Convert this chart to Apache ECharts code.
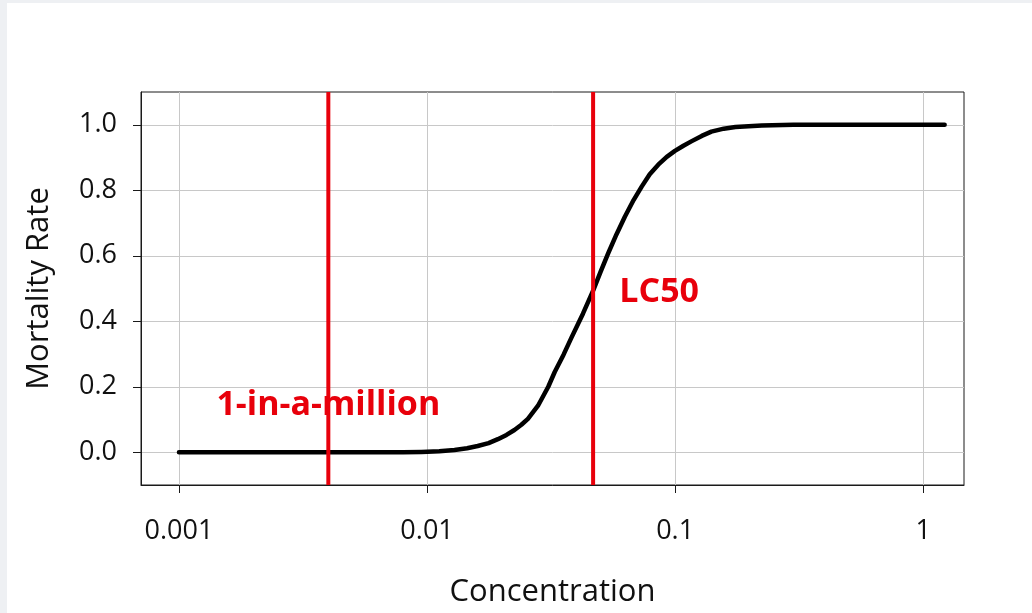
<!DOCTYPE html>
<html>
<head>
<meta charset="utf-8">
<script src="https://cdn.jsdelivr.net/npm/echarts@6/dist/echarts.min.js"></script>
<style>
  html, body { margin: 0; padding: 0; width: 1032px; height: 613px; background: #eef0f3; overflow: hidden; }
  #chart { position: absolute; left: 7px; top: 3px; width: 1025px; height: 610px; background: #ffffff; }
</style>
</head>
<body>
<div id="chart"></div>
<script>
// Concentration (log scale) and mortality rate
var concentration = [0.001, 0.002, 0.004, 0.006, 0.008, 0.0095, 0.0112, 0.0129, 0.0145, 0.016, 0.0177, 0.0193, 0.0209, 0.0225, 0.024, 0.0255, 0.028, 0.0308, 0.0327, 0.0355, 0.0382, 0.0425, 0.0468, 0.05, 0.0537, 0.058, 0.0627, 0.068, 0.0733, 0.079, 0.0855, 0.0925, 0.0998, 0.108, 0.1167, 0.128, 0.14, 0.157, 0.175, 0.2234, 0.3, 0.5, 1.22];
var mortality = [0, 0, 0, 0, 0, 0.001, 0.003, 0.007, 0.012, 0.019, 0.028, 0.040, 0.053, 0.068, 0.084, 0.102, 0.142, 0.200, 0.245, 0.298, 0.350, 0.423, 0.495, 0.550, 0.607, 0.665, 0.719, 0.770, 0.811, 0.849, 0.878, 0.902, 0.920, 0.936, 0.950, 0.966, 0.979, 0.988, 0.993, 0.998, 1.0, 1.0, 1.0];

var xTicks = [0.001, 0.01, 0.1, 1];
var yTicks = [0, 0.2, 0.4, 0.6, 0.8, 1.0];
var xRange = [0.000703, 1.46];
var yRange = [-0.1, 1.1];

// Reference lines (concentrations) and their labels
var oneInMillion = 0.004;
var lc50 = 0.0467;
var annotations = [
  { text: '1-in-a-million', x: 0.004, y: 0.143 },
  { text: 'LC50', x: 0.0862, y: 0.489 }
];

var FONT = '"Open Sans", "Noto Sans", sans-serif';
var RED = '#e8000b';

var chart = echarts.init(document.getElementById('chart'), null, { renderer: 'canvas' });

var curveData = concentration.map(function (c, i) { return [c, mortality[i]]; });

function vline(x) {
  return {
    type: 'line',
    data: [[x, yRange[0]], [x, yRange[1]]],
    showSymbol: false,
    silent: true,
    lineStyle: { color: RED, width: 4 },
    z: 4
  };
}

chart.setOption({
  animation: false,
  backgroundColor: '#ffffff',
  grid: {
    left: 134, top: 89, right: 68, bottom: 128,
    show: true, borderColor: '#1a1a1a', borderWidth: 1, backgroundColor: 'transparent'
  },
  xAxis: {
    type: 'log',
    logBase: 10,
    min: xRange[0],
    max: xRange[1],
    name: 'Concentration',
    nameLocation: 'middle',
    nameGap: 92,
    nameTextStyle: { fontFamily: FONT, fontSize: 31, color: '#111' },
    axisLine: { show: true, onZero: false, lineStyle: { color: '#1a1a1a', width: 1 } },
    axisTick: { show: true, inside: false, length: 8, customValues: xTicks, lineStyle: { color: '#1a1a1a', width: 1 } },
    axisLabel: {
      customValues: xTicks,
      margin: 33,
      fontFamily: FONT, fontSize: 27, color: '#111',
      formatter: function (v) { return String(v); }
    },
    splitLine: { show: true, lineStyle: { color: '#c8c8c8', width: 1 } },
    minorSplitLine: { show: false }
  },
  yAxis: {
    type: 'value',
    min: yRange[0],
    max: yRange[1],
    name: 'Mortality Rate',
    nameLocation: 'middle',
    nameGap: 86,
    nameTextStyle: { fontFamily: FONT, fontSize: 31, color: '#111' },
    axisLine: { show: true, onZero: false, lineStyle: { color: '#1a1a1a', width: 1 } },
    axisTick: { show: true, inside: false, length: 8, customValues: yTicks, lineStyle: { color: '#1a1a1a', width: 1 } },
    axisLabel: {
      customValues: yTicks,
      margin: 24,
      fontFamily: FONT, fontSize: 27, color: '#111',
      formatter: function (v) { return v.toFixed(1); }
    },
    splitLine: { show: true, lineStyle: { color: '#c8c8c8', width: 1 } }
  },
  series: [
    {
      name: 'Mortality',
      type: 'line',
      data: curveData,
      showSymbol: false,
      smooth: false,
      lineStyle: { color: '#000000', width: 4.5, cap: 'round', join: 'round' },
      z: 3
    },
    vline(oneInMillion),
    vline(lc50),
    {
      name: 'Labels',
      type: 'scatter',
      data: annotations.map(function (a) { return { name: a.text, value: [a.x, a.y] }; }),
      symbolSize: 0,
      silent: true,
      z: 5,
      itemStyle: { opacity: 1 },
      label: {
        show: true,
        position: 'inside',
        opacity: 1,
        fontFamily: FONT,
        fontWeight: 'bold',
        fontSize: 34,
        color: RED,
        formatter: function (p) { return p.name; }
      }
    }
  ]
});
</script>
</body>
</html>
